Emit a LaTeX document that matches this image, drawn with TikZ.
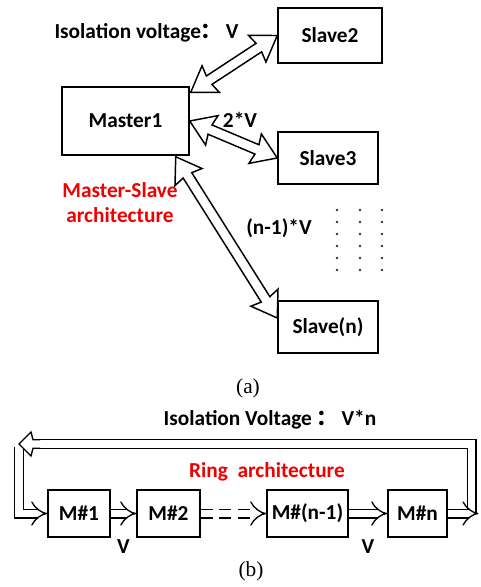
\documentclass[tikz,border=0pt]{standalone}
\usepackage{fontspec}
\setmainfont{Carlito}
\newfontfamily\capfont{Liberation Serif}
\newfontfamily\cjk{Noto Sans CJK SC}
\usetikzlibrary{arrows.meta,calc}
\definecolor{archred}{RGB}{240,0,0}
\newcommand\pxu{0.75pt}
\newcommand\hollowdbl[2]{%
  \draw[hollow] let \p1=(#1), \p2=(#2),
    \n1={veclen(\x2-\x1,\y2-\y1)}, \n2={atan2(\y2-\y1,\x2-\x1)} in
    [shift={(\p1)}, rotate=\n2]
    (0pt,0pt) -- (18pt,12pt) -- (16.5pt,3.8pt) -- ({\n1-16.5pt},3.8pt) -- ({\n1-18pt},12pt)
    -- (\n1,0pt) -- ({\n1-18pt},-12pt) -- ({\n1-16.5pt},-3.8pt) -- (16.5pt,-3.8pt)
    -- (18pt,-12pt) -- cycle;}
\begin{document}
\begin{tikzpicture}[x=0.75pt,y=-0.75pt,
  box/.style={draw, line width=1.1pt, fill=white, inner sep=0pt,
    font=\bfseries\fontsize{16}{19}\selectfont},
  lbl/.style={font=\bfseries\fontsize{16}{19}\selectfont, inner sep=0pt},
  redlbl/.style={lbl, text=archred},
  caplbl/.style={font=\capfont\fontsize{16}{19}\selectfont, inner sep=0pt},
  hollow/.style={draw, line width=1.1pt, fill=white, line join=miter},
  ring/.style={draw=black, line width=1pt, double=white, double distance=5.5pt, line join=miter},
  ringtip/.style={-{Implies[scale=1.3]}},
  dotmark/.style={fill=black!80, circle, inner sep=0pt, minimum size=2.2pt}]
\useasboundingbox (0,0) rectangle (480,587);

% ---- (a) master-slave ----
\node[box, minimum width=127*\pxu, minimum height=68*\pxu] (master) at (125.5,121) {Master1};
\node[box, minimum width=104*\pxu, minimum height=55*\pxu] (slave2) at (330,35.5) {Slave2};
\node[box, minimum width=100*\pxu, minimum height=52*\pxu] (slave3) at (328,158) {Slave3};
\node[box, minimum width=100*\pxu, minimum height=52*\pxu] (slaven) at (328,327) {Slave(n)};

\hollowdbl{$(master.north east)+(1,6)$}{slave2.west}
\hollowdbl{master.east}{slave3.west}
\hollowdbl{$(master.south east)+(-14,1)$}{$(slaven.west)+(0,-9)$}

\node[lbl] (iso1) at (146.5,33) {Isolation voltage{\cjk ：}\,V};
\node[lbl] (v2) at (240,120) {2*V};
\node[lbl] (vn) at (279,228) {(n-1)*V};
\node[redlbl] (ms1) at (120,190) {Master-Slave};
\node[redlbl] (ms2) at (120,215) {architecture};

\foreach \cx in {337,360,382}
  \foreach \cy in {210,222,234,246,258,270}
    \node[dotmark] at (\cx,\cy) {};

\node[caplbl] (capa) at (248,388) {(a)};

% ---- (b) ring ----
\node[lbl] (iso2) at (270,420) {Isolation Voltage {\cjk ：}\,V*n};
\node[redlbl] (ringlbl) at (267,472) {Ring\ \ architecture};

\node[box, minimum width=62*\pxu, minimum height=47*\pxu] (m1) at (79,513.5) {M\#1};
\node[box, minimum width=63*\pxu, minimum height=47*\pxu] (m2) at (168.5,513.5) {M\#2};
\node[box, minimum width=81*\pxu, minimum height=47*\pxu] (mn1) at (307.5,513.5) {M\#(n-1)};
\node[box, minimum width=59*\pxu, minimum height=47*\pxu] (mnn) at (417.5,513.5) {M\#n};

\coordinate (lt) at (19,444);
\coordinate (ltshaft) at ($(lt)+(20,0)$);
\coordinate (rt) at (471.5,444);
\coordinate (lb) at (lt |- m1.west);
\coordinate (rb) at (rt |- mnn.east);
\coordinate (rout) at ($(rb)+(7,0)$);

\draw[ring,ringtip] ($(lt)+(0,3)$) -- (lb) -- (m1.west);
\draw[ring] (rb) -- (rt) -- (ltshaft);
% big open head of the return path
\fill[white] (lt) -- ($(lt)+(12,-12)$) -- ($(lt)+(14,-4.3)$) -- ($(lt)+(21,-4.3)$)
  -- ($(lt)+(21,4.3)$) -- ($(lt)+(14,4.3)$) -- ($(lt)+(12,12)$) -- cycle;
\draw[line width=1pt, line join=miter] ($(lt)+(21,-4.3)$) -- ($(lt)+(14,-4.3)$) -- ($(lt)+(12,-12)$)
  -- (lt) -- ($(lt)+(12,12)$) -- ($(lt)+(14,4.3)$) -- ($(lt)+(21,4.3)$);
\draw[ring,ringtip] (mnn.east) -- (rout);
\draw[ring,ringtip] (m1.east) -- (m2.west);
\draw[ring,ringtip] (mn1.east) -- (mnn.west);
\draw[ring,ringtip,dash pattern=on 9pt off 5pt] (m2.east) -- (mn1.west);

\node[lbl] (va) at ($($(m1.east)!0.5!(m2.west)$)+(0,33)$) {V};
\node[lbl] (vb) at ($($(mn1.east)!0.5!(mnn.west)$)+(0,33)$) {V};

\node[caplbl] (capb) at (251,571) {(b)};
\end{tikzpicture}
\end{document}
